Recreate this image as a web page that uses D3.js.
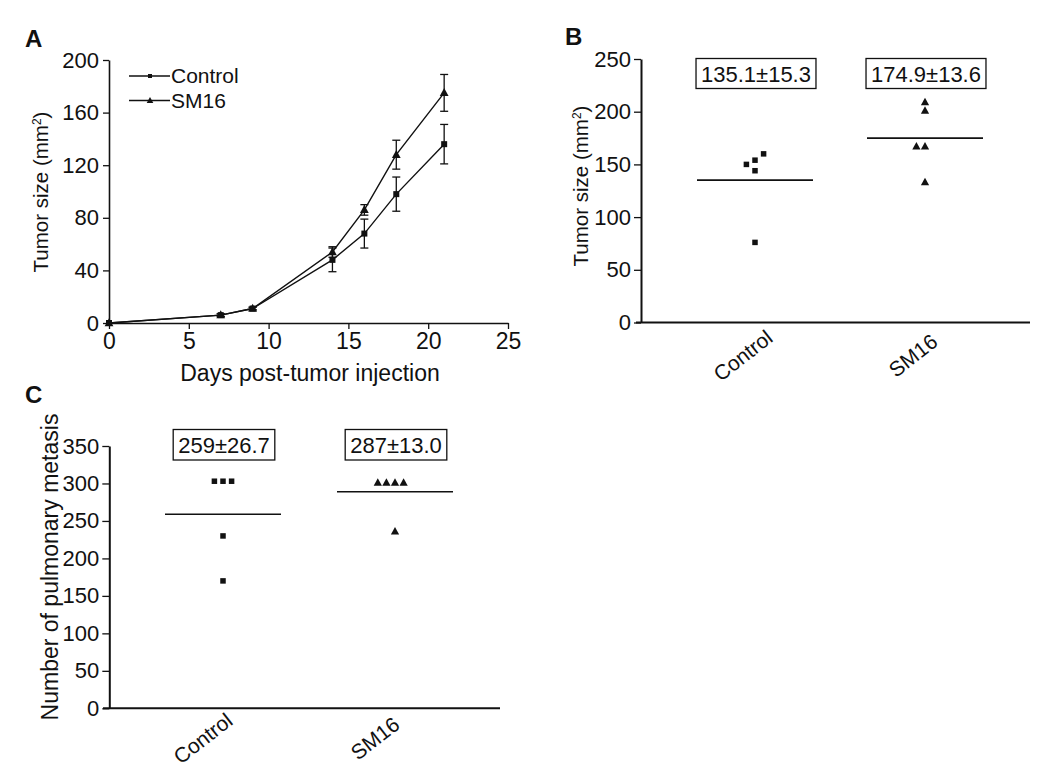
<!DOCTYPE html>
<html>
<head>
<meta charset="utf-8">
<script src="https://cdn.jsdelivr.net/npm/d3@7/dist/d3.min.js"></script>
<style>
  html, body { margin: 0; padding: 0; background: #fff; }
  svg { display: block; }
  text { font-family: "Liberation Sans", Arial, sans-serif; fill: #111; }
</style>
</head>
<body>
<svg id="chart" width="1050" height="782"></svg>
<script>
// ---------------- DATA ----------------
// Panel A: tumor growth curves
const days = [0, 7, 9, 14, 16, 18, 21];
const controlMean = [0, 6, 11, 48, 68, 98, 136];
const controlErr  = [0, 1, 1, 9, 11, 13, 15];
const sm16Mean    = [0, 6, 11, 54, 86, 128, 175];
const sm16Err     = [0, 1, 1, 4, 4, 11, 14];
const xTicksA = [0, 5, 10, 15, 20, 25];
const yTicksA = [0, 40, 80, 120, 160, 200];

// Panel B: tumor size per mouse
const groups = ["Control", "SM16"];
const tumorControl = [150, 154, 160, 144, 76];
const tumorSM16    = [209, 201, 167, 167, 133];
const tumorMeans   = [135.1, 174.9];
const tumorLabels  = ["135.1±15.3", "174.9±13.6"];
const yTicksB = [0, 50, 100, 150, 200, 250];

// Panel C: pulmonary metastasis counts
const metaControl = [303, 303, 303, 230, 170];
const metaSM16    = [301, 301, 301, 301, 236];
const metaMeans   = [259, 289];
const metaLabels  = ["259±26.7", "287±13.0"];
const yTicksC = [0, 50, 100, 150, 200, 250, 300, 350];

// ---------------- DRAW ----------------
const svg = d3.select("#chart");
svg.append("rect").attr("width", 1050).attr("height", 782).attr("fill", "#fff");
const INK = "#111";

function styleAxis(g, fs) {
  g.selectAll("path.domain").attr("stroke", INK).attr("stroke-width", 1.6);
  g.selectAll(".tick line").attr("stroke", INK).attr("stroke-width", 1.3);
  g.selectAll(".tick text").attr("fill", INK)
    .style("font-size", fs + "px")
    .style("font-family", '"Liberation Sans", Arial, sans-serif');
}

function squareMarker(sel, size) {
  return sel.append("rect")
    .attr("x", -size / 2).attr("y", -size / 2)
    .attr("width", size).attr("height", size).attr("fill", INK);
}
const triPath = s => `M0,${-s * 0.6}L${s * 0.55},${s * 0.4}L${-s * 0.55},${s * 0.4}Z`;

// Panel letters
svg.append("text").attr("x", 25).attr("y", 47).text("A")
  .style("font-size", "24px").style("font-weight", "bold");
svg.append("text").attr("x", 565).attr("y", 45).text("B")
  .style("font-size", "24px").style("font-weight", "bold");
svg.append("text").attr("x", 25).attr("y", 403).text("C")
  .style("font-size", "24px").style("font-weight", "bold");

// ===== Panel A =====
{
  const x = d3.scaleLinear().domain([0, 25]).range([109, 508]);
  const y = d3.scaleLinear().domain([0, 200]).range([323, 60]);
  const g = svg.append("g");

  const gy = g.append("g").attr("transform", `translate(${x(0)},0)`)
    .call(d3.axisLeft(y).tickValues(yTicksA).tickSize(6).tickSizeOuter(0).tickPadding(4));
  styleAxis(gy, 22);
  const gx = g.append("g").attr("transform", `translate(0,${y(0)})`)
    .call(d3.axisBottom(x).tickValues(xTicksA).tickSize(6).tickSizeOuter(0).tickPadding(4));
  styleAxis(gx, 23);

  g.append("text").attr("x", 310).attr("y", 381).attr("text-anchor", "middle")
    .style("font-size", "23px").text("Days post-tumor injection");
  g.append("text").attr("transform", "translate(48,192) rotate(-90)")
    .attr("text-anchor", "middle").style("font-size", "20.5px")
    .html('Tumor size (mm<tspan dy="-7" style="font-size:12px">2</tspan><tspan dy="7">)</tspan>');

  const line = d3.line().x(d => x(d[0])).y(d => y(d[1]));
  const series = [
    { mean: controlMean, err: controlErr, shape: "square" },
    { mean: sm16Mean, err: sm16Err, shape: "tri" }
  ];
  series.forEach(s => {
    const pts = days.map((d, i) => [d, s.mean[i], s.err[i]]);
    g.append("path").datum(pts).attr("d", line)
      .attr("fill", "none").attr("stroke", INK).attr("stroke-width", 1.4);
    pts.forEach(p => {
      if (p[2] > 0) {
        const cx = x(p[0]), y1 = y(p[1] - p[2]), y2 = y(p[1] + p[2]);
        g.append("line").attr("x1", cx).attr("x2", cx).attr("y1", y1).attr("y2", y2)
          .attr("stroke", INK).attr("stroke-width", 1.3);
        [y1, y2].forEach(yy => g.append("line").attr("x1", cx - 4).attr("x2", cx + 4)
          .attr("y1", yy).attr("y2", yy).attr("stroke", INK).attr("stroke-width", 1.3));
      }
      const m = g.append("g").attr("transform", `translate(${x(p[0])},${y(p[1])})`);
      if (s.shape === "square") squareMarker(m, 6);
      else m.append("path").attr("d", triPath(8)).attr("fill", INK);
    });
  });

  // legend
  const leg = [
    { label: "Control", shape: "square", y: 76 },
    { label: "SM16", shape: "tri", y: 100.5 }
  ];
  leg.forEach(l => {
    g.append("line").attr("x1", 129).attr("x2", 170).attr("y1", l.y).attr("y2", l.y)
      .attr("stroke", INK).attr("stroke-width", 1.3);
    const m = g.append("g").attr("transform", `translate(150,${l.y})`);
    if (l.shape === "square") squareMarker(m, 4);
    else m.append("path").attr("d", triPath(6)).attr("fill", INK);
    g.append("text").attr("x", 171).attr("y", l.y + 7).style("font-size", "21px").text(l.label);
  });
}

// beeswarm-like horizontal dodge (sorted by value, balanced left/right)
function dodge(values, yScale, step, minDy) {
  const order = values.map((v, i) => ({ v, i })).sort((a, b) => a.v - b.v);
  const placed = [];
  const out = new Array(values.length);
  order.forEach(o => {
    const py = yScale(o.v);
    const free = k => placed.every(p => p.k !== k || Math.abs(p.py - py) >= minDy);
    let k = 0;
    if (!free(0)) {
      for (let n = 1; n < 10; n++) {
        const left = placed.filter(p => p.k < 0).length;
        const right = placed.filter(p => p.k > 0).length;
        const cands = left <= right ? [-n, n] : [n, -n];
        const c = cands.find(free);
        if (c !== undefined) { k = c; break; }
      }
    }
    placed.push({ k, py });
    out[o.i] = { v: o.v, dx: k * step };
  });
  return out;
}

function scatterPanel(opt) {
  const x = d3.scalePoint().domain(groups).range(opt.xRange);
  const y = d3.scaleLinear().domain(opt.yDomain).range(opt.yRange);
  const g = svg.append("g");

  const gy = g.append("g").attr("transform", `translate(${opt.axisX},0)`)
    .call(d3.axisLeft(y).tickValues(opt.ticks).tickSize(7).tickSizeOuter(0).tickPadding(3));
  styleAxis(gy, 22);
  gy.select("path.domain").attr("stroke-width", 2);

  g.append("line").attr("x1", opt.xAxisFrom).attr("x2", opt.xAxisTo)
    .attr("y1", y(0)).attr("y2", y(0)).attr("stroke", INK).attr("stroke-width", 2);

  g.append("text").attr("transform", `translate(${opt.titleX},${opt.titleY}) rotate(-90)`)
    .attr("text-anchor", "middle").style("font-size", opt.titleSize + "px").html(opt.title);

  groups.forEach((grp, gi) => {
    const cx = x(grp);
    // category label
    g.append("text")
      .attr("transform", `translate(${cx + opt.lblDx},${y(0) + opt.lblDy}) rotate(-38)`)
      .attr("text-anchor", "middle").attr("dy", "0.35em")
      .style("font-size", "21px").text(grp);
    // mean line
    g.append("line").attr("x1", cx - 58).attr("x2", cx + 58)
      .attr("y1", y(opt.means[gi])).attr("y2", y(opt.means[gi]))
      .attr("stroke", INK).attr("stroke-width", 1.6);
    // points
    const pts = dodge(opt.values[gi], y, 8.6, 8);
    pts.forEach(p => {
      const m = g.append("g").attr("transform", `translate(${cx + p.dx},${y(p.v)})`);
      if (gi === 0) squareMarker(m, 5.5);
      else m.append("path").attr("d", triPath(7.5)).attr("fill", INK);
    });
    // boxed label
    const box = g.append("g");
    const rect = box.append("rect");
    const t = box.append("text").attr("x", cx + 1).attr("y", opt.boxY + opt.boxH / 2 + 8)
      .attr("text-anchor", "middle").style("font-size", "22px").text(opt.labels[gi]);
    const bb = t.node().getBBox();
    rect.attr("x", bb.x - 5).attr("width", bb.width + 10)
      .attr("y", opt.boxY).attr("height", opt.boxH)
      .attr("fill", "#fff").attr("stroke", INK).attr("stroke-width", 1.3);
  });
}

// ===== Panel B =====
scatterPanel({
  xRange: [755, 925], yDomain: [0, 250], yRange: [322.5, 59],
  ticks: yTicksB, axisX: 641, xAxisFrom: 636, xAxisTo: 1030,
  title: 'Tumor size (mm<tspan dy="-7" style="font-size:12px">2</tspan><tspan dy="7">)</tspan>',
  titleX: 588, titleY: 186, titleSize: 20.5,
  values: [tumorControl, tumorSM16], means: tumorMeans, labels: tumorLabels,
  boxY: 58.5, boxH: 30, lblDx: -12, lblDy: 33
});

// ===== Panel C =====
scatterPanel({
  xRange: [223, 395], yDomain: [0, 350], yRange: [708.3, 446],
  ticks: yTicksC, axisX: 109.3, xAxisFrom: 103, xAxisTo: 500,
  title: "Number of pulmonary metasis",
  titleX: 58, titleY: 567, titleSize: 23,
  values: [metaControl, metaSM16], means: metaMeans, labels: metaLabels,
  boxY: 429.5, boxH: 30.5, lblDx: -20, lblDy: 30
});
</script>
</body>
</html>
